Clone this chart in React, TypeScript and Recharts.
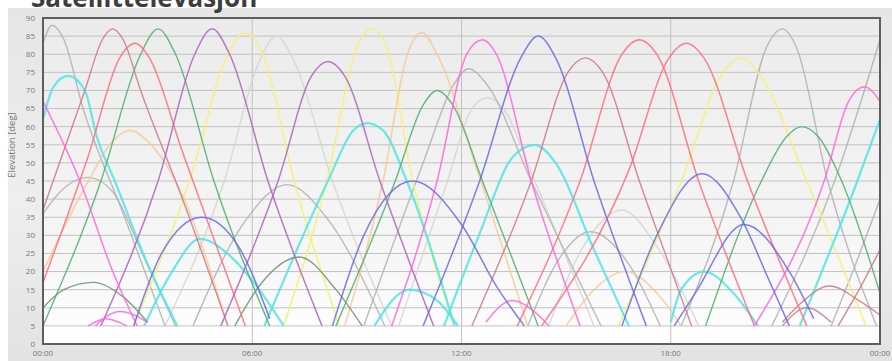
import React from "react";
import { LineChart, Line, XAxis, YAxis, CartesianGrid } from "recharts";

// each pass: [hour of day, elevation in degrees]
type Pass = [number, number][];

const hourTicks = [0, 6, 12, 18, 24];
const hourLabels = ["00:00", "06:00", "12:00", "18:00", "00:00"];
const elevTicks = [0, 5, 10, 15, 20, 25, 30, 35, 40, 45, 50, 55, 60, 65, 70, 75, 80, 85, 90];

const grayPasses: Pass[] = [
  [[0, 83], [0.26, 88], [0.6, 84], [1.15, 65], [2.3, 36], [3.5, 5]],
  [[0, 36], [0.6, 43], [1.3, 46], [2.0, 42], [2.8, 26], [3.8, 5]],
  [[4.3, 5], [5.8, 34], [7.0, 44], [8.2, 34], [9.8, 5]],
  [[9.2, 5], [10.9, 50], [11.8, 72], [12.2, 76], [12.7, 72], [14.0, 45], [16.0, 5]],
  [[13.9, 5], [14.7, 22], [15.7, 31], [16.8, 22], [17.7, 5]],
  [[18.3, 5], [19.8, 45], [20.75, 82], [21.2, 87], [21.6, 82], [22.5, 45], [23.9, 5]],
  [[20.9, 5], [22.7, 45], [24, 84]],
  [[22.6, 5], [23.3, 22], [24, 40]],
];

const lightGrayPasses: Pass[] = [
  [[3.5, 5], [5.2, 45], [6.2, 78], [6.7, 85], [7.2, 78], [8.3, 45], [10.0, 5]],
  [[10.2, 5], [11.6, 45], [12.3, 65], [12.75, 68], [13.2, 65], [14.1, 45], [15.8, 5]],
  [[14.5, 5], [15.5, 27], [16.6, 37], [17.6, 27], [18.8, 5]],
];

const cyanPasses: Pass[] = [
  [[0, 62], [0.3, 71], [0.72, 74], [1.2, 70], [1.55, 57], [2.06, 45], [3.0, 22], [3.85, 5]],
  [[2.9, 5], [3.7, 20], [4.5, 29], [5.4, 24], [6.2, 15], [6.9, 5]],
  [[6.35, 5], [8.17, 45], [8.9, 59], [9.3, 61], [9.75, 59], [10.43, 45], [11.8, 5]],
  [[9.5, 5], [10.5, 15], [11.3, 12], [11.9, 5]],
  [[11.5, 5], [12.5, 30], [13.5, 52], [14.1, 55], [14.7, 50], [15.8, 26], [16.8, 5]],
  [[18.0, 6], [18.3, 15], [18.95, 20], [19.8, 14], [20.5, 5]],
  [[21.7, 5], [23.35, 45], [24, 62]],
];

const magentaPasses: Pass[] = [
  [[0, 67], [1.06, 45], [2.0, 20], [2.7, 5]],
  [[1.5, 5], [2.2, 9], [3.0, 6]],
  [[1.3, 5], [1.8, 7], [2.4, 5]],
  [[10.0, 5], [11.3, 45], [12.15, 80], [12.6, 84], [13.0, 80], [14.0, 45], [15.4, 5]],
  [[12.7, 6], [13.45, 12], [14.2, 8], [14.5, 5]],
  [[20.4, 5], [22.4, 45], [23.1, 67], [23.55, 71], [24, 67]],
];

const rosePasses: Pass[] = [
  [[0, 37], [1.2, 70], [1.7, 84], [2.0, 87], [2.3, 84], [2.8, 70], [4.0, 40], [5.3, 5]],
  [[12.3, 5], [14.0, 45], [15.05, 75], [15.55, 79], [16.05, 75], [17.1, 45], [18.6, 5]],
  [[21.2, 5], [21.9, 10], [22.6, 6]],
  [[21.2, 6], [21.7, 11], [22.55, 16], [23.4, 12], [24, 8]],
  [[22.8, 5], [23.4, 15], [24, 26]],
];

const redPasses: Pass[] = [
  [[0, 17], [1.3, 52], [2.2, 79], [2.64, 83], [3.05, 79], [4.0, 53], [5.8, 5]],
  [[13.6, 5], [15.4, 45], [16.6, 80], [17.1, 84], [17.6, 80], [18.8, 45], [20.4, 5]],
  [[14.3, 5], [16.8, 48], [17.95, 79], [18.45, 83], [18.95, 79], [20.2, 45], [21.9, 5]],
];

const greenPasses: Pass[] = [
  [[0, 5], [1.66, 45], [2.8, 80], [3.3, 87], [3.8, 80], [4.9, 45], [6.5, 5]],
  [[8.4, 5], [10.1, 45], [10.9, 66], [11.3, 70], [11.75, 66], [12.6, 45], [14.2, 5]],
  [[19.0, 5], [20.6, 45], [21.3, 57], [21.75, 60], [22.25, 57], [22.9, 45], [24, 14]],
];

const darkGreenPasses: Pass[] = [
  [[0, 10], [0.6, 15], [1.45, 17], [2.3, 13], [3.0, 6]],
  [[5.5, 5], [6.2, 16], [7.35, 24], [8.4, 15], [9.15, 5]],
];

const purplePasses: Pass[] = [
  [[1.66, 5], [3.3, 45], [4.35, 80], [4.85, 87], [5.35, 80], [6.45, 45], [8.0, 5]],
  [[5.1, 5], [6.74, 45], [7.7, 74], [8.17, 78], [8.65, 74], [9.66, 45], [11.2, 5]],
];

const yellowPasses: Pass[] = [
  [[2.6, 5], [4.2, 45], [5.3, 80], [5.8, 86], [6.3, 80], [7.2, 45], [8.5, 5]],
  [[6.9, 5], [8.14, 45], [9.0, 82], [9.43, 87], [9.85, 82], [10.6, 45], [11.8, 5]],
  [[16.5, 5], [18.3, 45], [19.5, 75], [20.0, 79], [20.5, 75], [21.9, 45], [23.6, 5]],
];

const orangePasses: Pass[] = [
  [[0, 20], [1.3, 45], [2.0, 56], [2.5, 59], [3.0, 56], [3.8, 45], [5.3, 5]],
  [[8.65, 5], [9.75, 45], [10.45, 80], [10.87, 86], [11.3, 80], [12.45, 48], [13.9, 5]],
  [[15.0, 5], [15.7, 14], [16.7, 20], [17.7, 13], [18.3, 5]],
];

const bluePasses: Pass[] = [
  [[2.6, 5], [3.4, 25], [4.55, 35], [5.6, 27], [6.5, 7]],
  [[8.3, 5], [9.2, 30], [10.6, 45], [12.0, 33], [13.0, 16], [13.8, 5]],
  [[10.9, 5], [12.52, 45], [13.7, 79], [14.2, 85], [14.7, 79], [15.8, 45], [17.3, 5]],
  [[16.6, 5], [17.6, 30], [18.9, 47], [20.0, 35], [20.8, 18], [21.4, 5]],
  [[18.1, 5], [18.7, 14], [20.1, 33], [21.4, 20], [22.1, 7]],
];

const groups: { color: string; width: number; passes: Pass[] }[] = [
  { color: "#d4d4d4", width: 1.4, passes: lightGrayPasses },
  { color: "#b0b0b0", width: 1.4, passes: grayPasses },
  { color: "#f3f17e", width: 1.8, passes: yellowPasses },
  { color: "#f8c996", width: 1.6, passes: orangePasses },
  { color: "#52e4e4", width: 2.2, passes: cyanPasses },
  { color: "#6b9270", width: 1.4, passes: darkGreenPasses },
  { color: "#4cad6c", width: 1.4, passes: greenPasses },
  { color: "#cc7787", width: 1.4, passes: rosePasses },
  { color: "#ff6c7e", width: 1.5, passes: redPasses },
  { color: "#ad64bc", width: 1.5, passes: purplePasses },
  { color: "#ff64da", width: 1.5, passes: magentaPasses },
  { color: "#6868e6", width: 1.5, passes: bluePasses },
];

const W = 892;
const H = 361;
const PL = 43;
const PR = 880;
const PT = 18;
const PB = 344;

export default function App() {
  const lines: React.ReactNode[] = [];
  groups.forEach((g, gi) =>
    g.passes.forEach((p, pi) =>
      lines.push(
        <Line
          key={`${gi}-${pi}`}
          data={p.map(([t, e]) => ({ t, e }))}
          dataKey="e"
          type="monotone"
          stroke={g.color}
          strokeWidth={g.width}
          strokeOpacity={0.85}
          dot={false}
          activeDot={false}
          isAnimationActive={false}
        />
      )
    )
  );

  return (
    <div
      style={{
        position: "absolute",
        left: 0,
        top: 0,
        width: W,
        height: H,
        background: "#ffffff",
        overflow: "hidden",
        fontFamily: "'Open Sans', sans-serif",
      }}
    >
      {/* grey panel */}
      <div
        style={{
          position: "absolute",
          left: 8,
          top: 8,
          width: W - 8,
          height: H - 8,
          background: "linear-gradient(to bottom, #e6e6e6, #eeeeee 55%, #e3e3e3)",
        }}
      />
      {/* plot background */}
      <div
        style={{
          position: "absolute",
          left: PL,
          top: PT,
          width: PR - PL,
          height: PB - PT,
          background: "linear-gradient(to bottom, #ebebeb, #f7f7f7 75%, #ffffff)",
        }}
      />
      <div style={{ position: "absolute", left: 0, top: 0 }}>
        <LineChart
          width={W}
          height={H}
          margin={{ top: PT, right: W - PR, bottom: 0, left: 0 }}
        >
          <CartesianGrid stroke="#c2c2c2" strokeWidth={1} />
          <XAxis
            dataKey="t"
            type="number"
            domain={[0, 24]}
            ticks={hourTicks}
            tickFormatter={(v: number) => hourLabels[hourTicks.indexOf(v)]}
            axisLine={false}
            tickLine={false}
            tickSize={4}
            height={H - PB}
            tick={{ fill: "#777", fontSize: 8 }}
            interval={0}
            allowDataOverflow
          />
          <YAxis
            type="number"
            domain={[0, 90]}
            ticks={elevTicks}
            axisLine={false}
            tickLine={false}
            tickSize={6}
            width={PL}
            tick={{ fill: "#777", fontSize: 8 }}
            interval={0}
            allowDataOverflow
          />
          {lines}
        </LineChart>
      </div>
      {/* plot frame */}
      <div
        style={{
          position: "absolute",
          left: PL - 1,
          top: PT - 1,
          width: PR - PL + 2,
          height: PB - PT + 2,
          boxSizing: "border-box",
          border: "2px solid #5e5e5e",
          pointerEvents: "none",
        }}
      />
      {/* y-axis title */}
      <div
        style={{
          position: "absolute",
          left: 12 - 50,
          top: 145 - 7,
          width: 100,
          height: 14,
          lineHeight: "14px",
          fontSize: 9.5,
          color: "#777",
          textAlign: "center",
          transform: "rotate(-90deg)",
        }}
      >
        Elevation [deg]
      </div>
      {/* chart title */}
      <div
        style={{
          position: "absolute",
          left: 31,
          top: -17,
          fontSize: 26,
          lineHeight: "28px",
          fontWeight: 700,
          color: "#3d3d3d",
          whiteSpace: "nowrap",
        }}
      >
        Satellittelevasjon
      </div>
    </div>
  );
}
